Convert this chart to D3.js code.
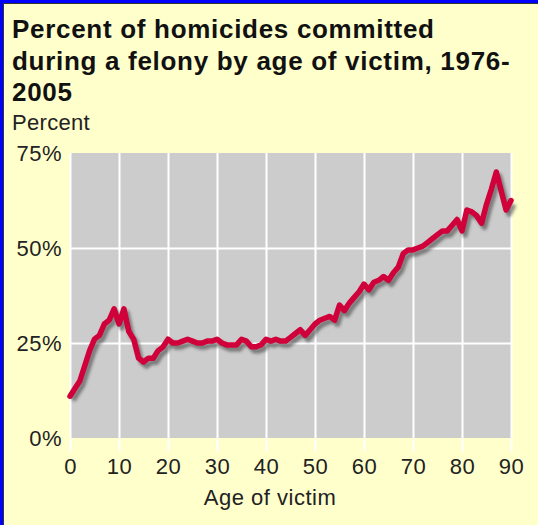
<!DOCTYPE html>
<html lang="en">

<head>
  <title>Percent of homicides committed during a felony by age of victim</title>
  <script src="https://d3js.org/d3.v7.min.js"></script>
  <style>
    body {
      margin: 0;
      padding: 0;
      overflow: hidden;
      background: #ffffcc;
      font-family: "Liberation Sans", Arial, sans-serif;
    }
  </style>
</head>

<body>
  <svg id="chart"></svg>

  <script>
    // Age of victim (0..90) and percent of homicides committed during a felony
    const ages = d3.range(0, 91);
    const percents = [
      11, 13, 15, 19, 23, 26, 27, 30, 31, 34,
      30, 34, 28, 26, 21, 20, 21, 21, 23, 24,
      26, 25, 25, 25.5, 26, 25.5, 25, 25, 25.5, 25.5,
      26, 25, 24.5, 24.5, 24.5, 26, 25.5, 24, 24, 24.5,
      26, 25.5, 26, 25.5, 25.5, 26.5, 27.5, 28.5, 27, 28.5,
      30, 31, 31.5, 32, 31, 35, 33.5, 35.5, 37, 38.5,
      40.5, 39, 41, 41.5, 42.5, 41.5, 43.5, 45, 48.5, 49.5,
      49.5, 50, 50.5, 51.5, 52.5, 53.5, 54.5, 54.5, 56, 57.5,
      54.5, 60, 59.5, 58.5, 56.5, 61.5, 65.5, 70, 65, 60,
      62.5
    ];
    const xTicks = [0, 10, 20, 30, 40, 50, 60, 70, 80, 90];
    const yTicks = [0, 25, 50, 75];
    const titleLines = [
      "Percent of homicides committed",
      "during a felony by age of victim, 1976-",
      "2005"
    ];

    const width = 538, height = 525;
    const plotLeft = 70, plotRight = 511, plotTop = 153, plotBottom = 438;
    const labelFont = "'Liberation Sans', Arial, sans-serif";

    const svg = d3.select("#chart")
      .attr("width", width)
      .attr("height", height)
      .style("display", "block");

    // frame: blue edge with a dark inner line
    svg.append("rect").attr("x", 0).attr("y", 0).attr("width", width).attr("height", height)
      .attr("fill", "#ffffcc");
    svg.append("rect").attr("x", 0).attr("y", 0).attr("width", 3).attr("height", height).attr("fill", "#0000ff");
    svg.append("rect").attr("x", 0).attr("y", 0).attr("width", width).attr("height", 3).attr("fill", "#0000ff");
    svg.append("rect").attr("x", 3).attr("y", 3).attr("width", 1).attr("height", height).attr("fill", "#333");
    svg.append("rect").attr("x", 3).attr("y", 3).attr("width", width).attr("height", 1).attr("fill", "#333");

    const x = d3.scaleLinear().domain([0, 90]).range([plotLeft, plotRight]);
    const y = d3.scaleLinear().domain([0, 75]).range([plotBottom, plotTop]);

    // title
    svg.append("g").selectAll("text")
      .data(titleLines)
      .enter().append("text")
      .attr("x", 12)
      .attr("y", (d, i) => 38 + i * 31.5)
      .attr("font-size", "26px")
      .attr("font-weight", "bold")
      .attr("letter-spacing", "0.7px")
      .attr("fill", "#111")
      .text(d => d);

    svg.append("text")
      .attr("x", 12).attr("y", 130)
      .attr("font-size", "22px")
      .attr("letter-spacing", "0.3px")
      .attr("fill", "#222")
      .text("Percent");

    // plot background
    svg.append("rect")
      .attr("x", plotLeft).attr("y", plotTop)
      .attr("width", plotRight - plotLeft).attr("height", plotBottom - plotTop)
      .attr("fill", "#cccccc");

    // vertical grid + ticks
    const xAxis = svg.append("g")
      .attr("transform", `translate(0,${plotBottom})`)
      .call(d3.axisBottom(x).tickValues(xTicks).tickSizeOuter(0).tickPadding(14));
    xAxis.select(".domain").remove();
    xAxis.selectAll(".tick line")
      .attr("y1", 14)
      .attr("y2", -(plotBottom - plotTop))
      .attr("stroke", "#fff")
      .attr("stroke-width", 2);
    xAxis.selectAll(".tick text")
      .attr("font-size", "22px")
      .attr("letter-spacing", "0.5px")
      .attr("font-family", labelFont)
      .attr("fill", "#222");

    // horizontal grid
    const yAxis = svg.append("g")
      .attr("transform", `translate(${plotLeft},0)`)
      .call(d3.axisLeft(y).tickValues(yTicks).tickFormat(d => d + "%").tickSize(-(plotRight - plotLeft)).tickPadding(8));
    yAxis.select(".domain").remove();
    yAxis.selectAll(".tick line")
      .attr("stroke", d => (d === 25 || d === 50) ? "#fff" : "none")
      .attr("stroke-width", 2);
    yAxis.selectAll(".tick text")
      .attr("font-size", "22px")
      .attr("letter-spacing", "0.5px")
      .attr("font-family", labelFont)
      .attr("fill", "#222");

    // drop shadow
    const defs = svg.append("defs");
    const blur = defs.append("filter").attr("id", "shadow")
      .attr("x", "-10%").attr("y", "-10%").attr("width", "120%").attr("height", "120%");
    blur.append("feGaussianBlur").attr("stdDeviation", 1.5);

    const line = d3.line()
      .x((d, i) => x(ages[i]))
      .y(d => y(d));

    svg.append("path")
      .datum(percents)
      .attr("d", line)
      .attr("transform", "translate(3,4)")
      .attr("fill", "none")
      .attr("stroke", "#444")
      .attr("stroke-opacity", 0.6)
      .attr("stroke-width", 5.5)
      .attr("stroke-linejoin", "round")
      .attr("filter", "url(#shadow)");

    svg.append("path")
      .datum(percents)
      .attr("d", line)
      .attr("fill", "none")
      .attr("stroke", "#d0003a")
      .attr("stroke-width", 5.5)
      .attr("stroke-linejoin", "round")
      .attr("stroke-linecap", "round");

    // x axis title
    svg.append("text")
      .attr("x", 270)
      .attr("y", 505)
      .attr("text-anchor", "middle")
      .attr("font-size", "22px")
      .attr("letter-spacing", "0.5px")
      .attr("fill", "#222")
      .text("Age of victim");
  </script>
</body>

</html>
